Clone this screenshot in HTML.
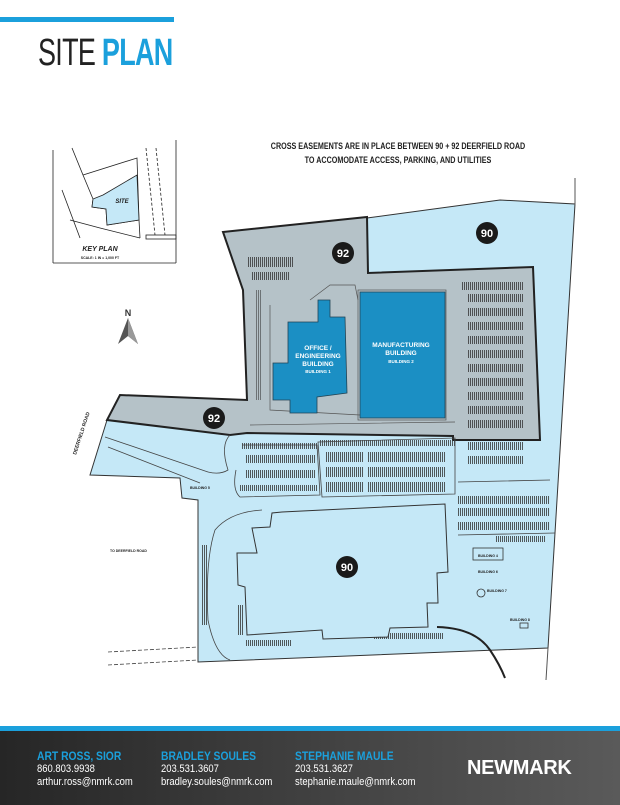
<!DOCTYPE html>
<html><head><meta charset="utf-8"><style>
html,body{margin:0;padding:0;background:#fff;}
body{width:620px;height:805px;position:relative;overflow:hidden;font-family:"Liberation Sans",sans-serif;}
.t{position:absolute;white-space:nowrap;}
.f{transform:scaleX(0.86);transform-origin:0 0;}
</style></head><body>
<div style="position:absolute;left:0;top:17px;width:174px;height:5px;background:#1ba0dc"></div>
<div class="t" style="left:38px;top:33px;font-size:38px;line-height:40px;transform:scaleX(0.71);transform-origin:0 0;letter-spacing:-1px"><span style="font-weight:300;color:#222">SITE </span><span style="font-weight:bold;color:#1ba0dc">PLAN</span></div>

<svg width="620" height="805" style="position:absolute;left:0;top:0" xmlns="http://www.w3.org/2000/svg">
<defs>
<pattern id="pk" width="2" height="10" patternUnits="userSpaceOnUse"><line x1="0.5" y1="0" x2="0.5" y2="10" stroke="#333" stroke-width="0.8"/></pattern>
</defs>
<polygon points="367,218 500,200 575,204 548,648 198,662 198,500 182,498 180,478 90,475 107,420 230,435" fill="#c5e8f7" stroke="#333" stroke-width="1"/>
<line x1="575" y1="178" x2="575" y2="205" stroke="#555"/>
<line x1="548" y1="648" x2="546" y2="680" stroke="#555"/>
<polygon points="223,232 367,217 368,273 533,267 540,440 453,440 453,436 247,433 230,435 107,420 120,395 247,400 243,290" fill="#b5c2c8" stroke="#222" stroke-width="2"/>
<rect x="256" y="290" width="6" height="110" fill="url(#pk)" opacity="0.7"/>
<g fill="url(#pk)">
<rect x="248" y="257" width="45" height="10"/>
<rect x="252" y="272" width="38" height="8"/>
<rect x="461" y="282" width="62" height="8"/>
<rect x="467" y="294" width="56" height="8"/><rect x="467" y="308" width="56" height="8"/>
<rect x="467" y="322" width="56" height="8"/><rect x="467" y="336" width="56" height="8"/>
<rect x="467" y="350" width="56" height="8"/><rect x="467" y="364" width="56" height="8"/>
<rect x="467" y="378" width="56" height="8"/><rect x="467" y="392" width="56" height="8"/>
<rect x="467" y="406" width="56" height="8"/><rect x="467" y="420" width="56" height="8"/>
<rect x="467" y="442" width="56" height="8"/><rect x="467" y="456" width="56" height="8"/>
<rect x="242" y="443" width="75" height="6"/><rect x="245" y="455" width="70" height="8"/>
<rect x="245" y="470" width="70" height="8"/><rect x="240" y="485" width="77" height="6"/>
<rect x="320" y="440" width="135" height="6"/>
<rect x="325" y="452" width="38" height="10"/><rect x="367" y="452" width="78" height="10"/>
<rect x="325" y="467" width="38" height="10"/><rect x="367" y="467" width="78" height="10"/>
<rect x="325" y="482" width="38" height="10"/><rect x="367" y="482" width="78" height="10"/>
<rect x="458" y="496" width="92" height="8"/><rect x="458" y="508" width="92" height="8"/>
<rect x="458" y="522" width="92" height="8"/><rect x="495" y="536" width="50" height="6"/>
<rect x="246" y="640" width="45" height="6"/><rect x="373" y="633" width="70" height="6"/>
<rect x="238" y="605" width="5" height="30"/><rect x="202" y="545" width="6" height="80"/>
</g>
<path d="M230,435 Q220,445 228,470 Q220,475 208,472" fill="none" stroke="#444" stroke-width="0.8"/>
<path d="M262,510 Q230,512 215,530 Q205,560 208,620 Q215,655 230,660" fill="none" stroke="#444" stroke-width="0.8"/>
<path d="M242,445 L317,445 L320,495 L240,497 Q232,490 236,470" fill="none" stroke="#444" stroke-width="0.8"/>
<path d="M318,442 L455,438 L455,494 L322,497 Z" fill="none" stroke="#444" stroke-width="0.8"/>
<path d="M458,482 L550,480 M458,535 L555,533" fill="none" stroke="#444" stroke-width="0.8"/>
<path d="M105,437 L208,472 M108,447 L200,483" stroke="#444" stroke-width="0.8"/>
<path d="M108,652 L198,647 M108,665 L198,660" stroke="#444" stroke-width="0.8" stroke-dasharray="4,2"/>
<polygon points="282,512 445,504 448,572 437,573 438,603 427,603 428,627 390,628 388,637 323,639 322,630 247,635 245,587 238,585 237,553 257,553 252,528 270,527 272,513" fill="#c5e8f7" stroke="#333" stroke-width="1"/>
<rect x="473" y="548" width="30" height="12" fill="#c5e8f7" stroke="#333" stroke-width="0.8"/>
<circle cx="481" cy="593" r="4" fill="#c5e8f7" stroke="#333" stroke-width="0.8"/>
<rect x="520" y="623" width="8" height="5" fill="none" stroke="#333" stroke-width="0.8"/>
<path d="M437,627 Q475,628 490,650 Q500,665 505,678" fill="none" stroke="#222" stroke-width="2"/>
<path d="M310,300 L330,285 L355,285 L358,300 M270,305 L270,410 L360,415 M250,425 L455,422" fill="none" stroke="#555" stroke-width="0.7"/>
<rect x="358" y="290" width="88" height="130" fill="none" stroke="#555" stroke-width="0.7"/>
<rect x="360" y="292" width="85" height="126" fill="#1b8fc4" stroke="#245" stroke-width="0.8"/>
<polygon points="318,300 330,300 330,317 345,317 347,393 317,397 317,413 290,413 290,400 273,400 273,363 288,363 288,322 318,322" fill="#1b8fc4" stroke="#245" stroke-width="0.8"/>
<g font-family="Liberation Sans" font-weight="bold" fill="#fff" text-anchor="middle">
<text x="318" y="350" font-size="6.5">OFFICE /</text>
<text x="318" y="358" font-size="6.5">ENGINEERING</text>
<text x="318" y="366" font-size="6.5">BUILDING</text>
<text x="318" y="373" font-size="4.5">BUILDING 1</text>
<text x="401" y="347" font-size="6.5">MANUFACTURING</text>
<text x="401" y="355" font-size="6.5">BUILDING</text>
<text x="401" y="363" font-size="4.5">BUILDING 2</text>
</g>
<g font-family="Liberation Sans" font-weight="bold" font-size="11" fill="#fff" text-anchor="middle">
<circle cx="487" cy="233" r="11" fill="#1a1a1a"/><text x="487" y="237">90</text>
<circle cx="343" cy="253" r="11" fill="#1a1a1a"/><text x="343" y="257">92</text>
<circle cx="214" cy="418" r="11" fill="#1a1a1a"/><text x="214" y="422">92</text>
<circle cx="347" cy="567" r="11" fill="#1a1a1a"/><text x="347" y="571">90</text>
</g>
<g font-family="Liberation Sans" font-size="3.5" fill="#222" font-weight="bold">
<text x="190" y="489">BUILDING 5</text><text x="478" y="557">BUILDING 4</text>
<text x="478" y="573">BUILDING 6</text><text x="487" y="592">BUILDING 7</text>
<text x="510" y="621">BUILDING 8</text><text x="110" y="552">TO DEERFIELD ROAD</text>
</g>
<text x="0" y="0" font-family="Liberation Sans" font-size="5" font-weight="bold" fill="#222" transform="translate(76,455) rotate(-72)">DEERFIELD ROAD</text>
<text x="128" y="316" font-family="Liberation Sans" font-size="9" font-weight="bold" text-anchor="middle" fill="#333">N</text>
<polygon points="118,344 128,318 138,344 128,336" fill="#555"/>
<polygon points="128,318 138,344 128,336" fill="#999"/>
<g font-family="Liberation Sans" font-weight="bold" font-size="9" fill="#222" text-anchor="middle">
<text x="398" y="149" transform="translate(398,0) scale(0.8,1) translate(-398,0)">CROSS EASEMENTS ARE IN PLACE BETWEEN 90 + 92 DEERFIELD ROAD</text>
<text x="398" y="163" transform="translate(398,0) scale(0.8,1) translate(-398,0)">TO ACCOMODATE ACCESS, PARKING, AND UTILITIES</text>
</g>
<g stroke="#222" fill="none" stroke-width="0.8">
<line x1="53" y1="150" x2="53" y2="263"/><line x1="53" y1="263" x2="176" y2="263"/><line x1="176" y1="140" x2="176" y2="263"/>
<path d="M72,148 L83,175 L137,158 L139,220 L107,225 L106,209 L92,207 L93,199 L83,175"/>
<path d="M62,190 L80,238 M70,220 L100,228 L140,238 M139,220 L140,238"/>
<path d="M146,148 L155,235 M156,148 L165,235" stroke-dasharray="3,2"/>
<rect x="146" y="235" width="30" height="4"/>
</g>
<polygon points="103,195 137,175 139,220 107,225 106,209 92,207 93,199" fill="#c5e8f7" stroke="#222" stroke-width="0.8"/>
<text x="122" y="203" font-family="Liberation Sans" font-size="6" font-style="italic" font-weight="bold" fill="#222" text-anchor="middle">SITE</text>
<text x="100" y="251" font-family="Liberation Sans" font-size="7" font-style="italic" font-weight="bold" fill="#222" text-anchor="middle">KEY PLAN</text>
<text x="100" y="259" font-family="Liberation Sans" font-size="3.5" font-weight="bold" fill="#222" text-anchor="middle">SCALE: 1 IN = 1,000 FT</text>
</svg>

<div style="position:absolute;left:0;top:726px;width:620px;height:5px;background:#1ba0dc"></div>
<div style="position:absolute;left:0;top:731px;width:620px;height:74px;background:linear-gradient(90deg,#262626 0%,#3e3e3e 45%,#5a5a5a 100%)"></div>
<div class="t f" style="left:37px;top:750px;font-size:11px;line-height:13px;color:#fff">
<div style="color:#1ba0dc;font-weight:bold;font-size:12px">ART ROSS, SIOR</div>860.803.9938<br>arthur.ross@nmrk.com</div>
<div class="t f" style="left:161px;top:750px;font-size:11px;line-height:13px;color:#fff">
<div style="color:#1ba0dc;font-weight:bold;font-size:12px">BRADLEY SOULES</div>203.531.3607<br>bradley.soules@nmrk.com</div>
<div class="t f" style="left:295px;top:750px;font-size:11px;line-height:13px;color:#fff">
<div style="color:#1ba0dc;font-weight:bold;font-size:12px">STEPHANIE MAULE</div>203.531.3627<br>stephanie.maule@nmrk.com</div>
<div class="t" style="left:467px;top:757px;font-size:20px;font-weight:bold;color:#fff;letter-spacing:-0.3px">NEWMARK</div>
</body></html>
